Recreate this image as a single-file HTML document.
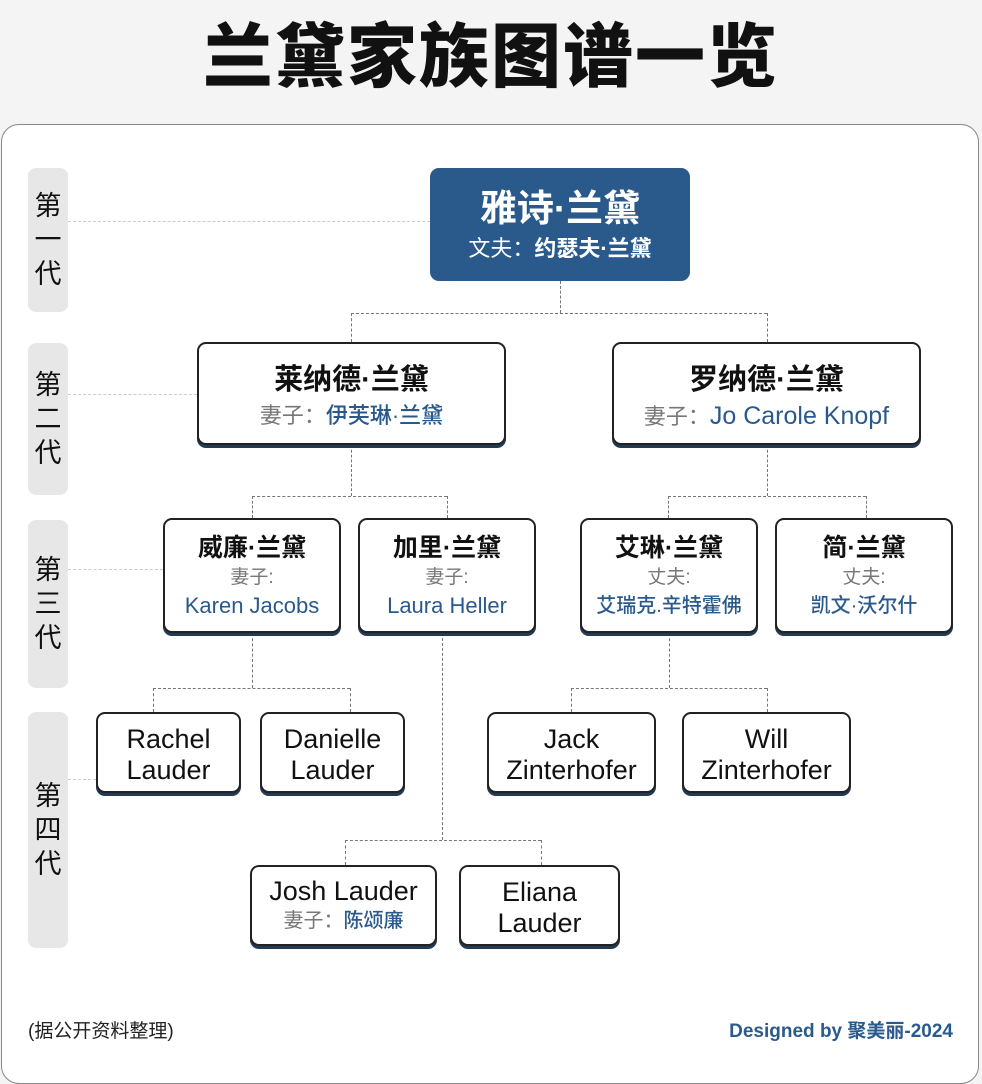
<!DOCTYPE html>
<html><head><meta charset="utf-8"><style>
*{margin:0;padding:0;box-sizing:border-box}
body{width:982px;height:1064px;background:#f4f4f4;position:relative;overflow:hidden;font-family:"Liberation Sans","Noto Sans CJK SC",sans-serif;color:#111}
.title{position:absolute;left:0;top:12px;width:982px;text-align:center;font-size:70px;font-weight:900;letter-spacing:2px;line-height:90px}
.card{position:absolute;left:1px;top:124px;width:978px;height:960px;background:#fff;border:1.5px solid #888;border-radius:18px}
.pill{position:absolute;left:28px;width:40px;background:#e7e7e7;border-radius:8px;display:flex;flex-direction:column;justify-content:center;align-items:center;font-size:27px;line-height:34px;color:#111}
.n{position:absolute;background:#fff;border:2px solid #222;border-radius:9px;box-shadow:0 3px 0 #233a55;text-align:center}
.t{font-weight:700;color:#111}
.s{color:#777}
.b{color:#2a5a8c;font-weight:500}
.hl{position:absolute;border-top:1.3px dashed #777;height:0}
.vl{position:absolute;border-left:1.3px dashed #777;width:0}
.g{position:absolute;border-top:1px dashed #ccc;height:0}
.foot{position:absolute;top:1016px;font-size:19px}
</style></head><body>
<div class="title">兰黛家族图谱一览</div>
<div class="card"></div>

<div class="pill" style="top:168px;height:144px">第<br>一<br>代</div>
<div class="pill" style="top:343px;height:152px">第<br>二<br>代</div>
<div class="pill" style="top:520px;height:168px">第<br>三<br>代</div>
<div class="pill" style="top:712px;height:236px">第<br>四<br>代</div>

<div class="g" style="left:68px;top:221px;width:362px"></div>
<div class="g" style="left:68px;top:394px;width:129px"></div>
<div class="g" style="left:68px;top:569px;width:95px"></div>
<div class="g" style="left:68px;top:779px;width:28px"></div>

<!-- connectors -->
<div class="vl" style="left:560px;top:281px;height:32px"></div>
<div class="hl" style="left:351px;top:313px;width:416px"></div>
<div class="vl" style="left:351px;top:313px;height:29px"></div>
<div class="vl" style="left:767px;top:313px;height:29px"></div>

<div class="vl" style="left:351px;top:445px;height:51px"></div>
<div class="hl" style="left:252px;top:496px;width:195px"></div>
<div class="vl" style="left:252px;top:496px;height:22px"></div>
<div class="vl" style="left:447px;top:496px;height:22px"></div>

<div class="vl" style="left:767px;top:445px;height:51px"></div>
<div class="hl" style="left:668px;top:496px;width:198px"></div>
<div class="vl" style="left:668px;top:496px;height:22px"></div>
<div class="vl" style="left:866px;top:496px;height:22px"></div>

<div class="vl" style="left:252px;top:633px;height:55px"></div>
<div class="hl" style="left:153px;top:688px;width:197px"></div>
<div class="vl" style="left:153px;top:688px;height:24px"></div>
<div class="vl" style="left:350px;top:688px;height:24px"></div>

<div class="vl" style="left:442px;top:633px;height:207px"></div>
<div class="hl" style="left:345px;top:840px;width:196px"></div>
<div class="vl" style="left:345px;top:840px;height:25px"></div>
<div class="vl" style="left:541px;top:840px;height:25px"></div>

<div class="vl" style="left:669px;top:633px;height:55px"></div>
<div class="hl" style="left:571px;top:688px;width:196px"></div>
<div class="vl" style="left:571px;top:688px;height:24px"></div>
<div class="vl" style="left:767px;top:688px;height:24px"></div>

<!-- nodes -->
<div class="n" style="left:430px;top:168px;width:260px;height:113px;background:#2a5a8c;border-color:#2a5a8c;box-shadow:none">
<div style="font-size:37px;font-weight:700;color:#fff;margin-top:16px;line-height:46px">雅诗·兰黛</div>
<div style="font-size:22px;color:#fff;line-height:34px">文夫：<b style="font-weight:600">约瑟夫·兰黛</b></div></div>

<div class="n" style="left:197px;top:342px;width:309px;height:103px">
<div class="t" style="font-size:29px;margin-top:16px;line-height:40px">莱纳德·兰黛</div>
<div style="font-size:22px;line-height:32px"><span class="s">妻子：</span><span class="b">伊芙琳·兰黛</span></div></div>

<div class="n" style="left:612px;top:342px;width:309px;height:103px">
<div class="t" style="font-size:29px;margin-top:16px;line-height:40px">罗纳德·兰黛</div>
<div style="font-size:22px;line-height:32px"><span class="s">妻子：</span><span class="b" style="font-size:25px">Jo Carole Knopf</span></div></div>

<div class="n" style="left:163px;top:518px;width:178px;height:115px">
<div class="t" style="font-size:25px;margin-top:12px;line-height:33px">威廉·兰黛</div>
<div class="s" style="font-size:19px;line-height:26px">妻子:</div>
<div class="b" style="font-size:22px;line-height:30px">Karen Jacobs</div></div>

<div class="n" style="left:358px;top:518px;width:178px;height:115px">
<div class="t" style="font-size:25px;margin-top:12px;line-height:33px">加里·兰黛</div>
<div class="s" style="font-size:19px;line-height:26px">妻子:</div>
<div class="b" style="font-size:22px;line-height:30px">Laura Heller</div></div>

<div class="n" style="left:580px;top:518px;width:178px;height:115px">
<div class="t" style="font-size:25px;margin-top:12px;line-height:33px">艾琳·兰黛</div>
<div class="s" style="font-size:19px;line-height:26px">丈夫:</div>
<div class="b" style="font-size:20px;line-height:30px">艾瑞克.辛特霍佛</div></div>

<div class="n" style="left:775px;top:518px;width:178px;height:115px">
<div class="t" style="font-size:25px;margin-top:12px;line-height:33px">简·兰黛</div>
<div class="s" style="font-size:19px;line-height:26px">丈夫:</div>
<div class="b" style="font-size:20px;line-height:30px">凯文·沃尔什</div></div>

<div class="n" style="left:96px;top:712px;width:145px;height:81px"><div style="font-size:27px;line-height:31px;margin-top:10px">Rachel<br>Lauder</div></div>
<div class="n" style="left:260px;top:712px;width:145px;height:81px"><div style="font-size:27px;line-height:31px;margin-top:10px">Danielle<br>Lauder</div></div>
<div class="n" style="left:487px;top:712px;width:169px;height:81px"><div style="font-size:27px;line-height:31px;margin-top:10px">Jack<br>Zinterhofer</div></div>
<div class="n" style="left:682px;top:712px;width:169px;height:81px"><div style="font-size:27px;line-height:31px;margin-top:10px">Will<br>Zinterhofer</div></div>

<div class="n" style="left:250px;top:865px;width:187px;height:81px"><div style="font-size:27px;line-height:31px;margin-top:9px">Josh Lauder</div>
<div style="font-size:20px;line-height:28px"><span class="s">妻子：</span><span class="b">陈颂廉</span></div></div>
<div class="n" style="left:459px;top:865px;width:161px;height:81px"><div style="font-size:27px;line-height:31px;margin-top:10px">Eliana<br>Lauder</div></div>

<div class="foot" style="left:28px;color:#222">(据公开资料整理)</div>
<div class="foot" style="right:29px;color:#2a5a8c;font-weight:600">Designed by 聚美丽-2024</div>
</body></html>
